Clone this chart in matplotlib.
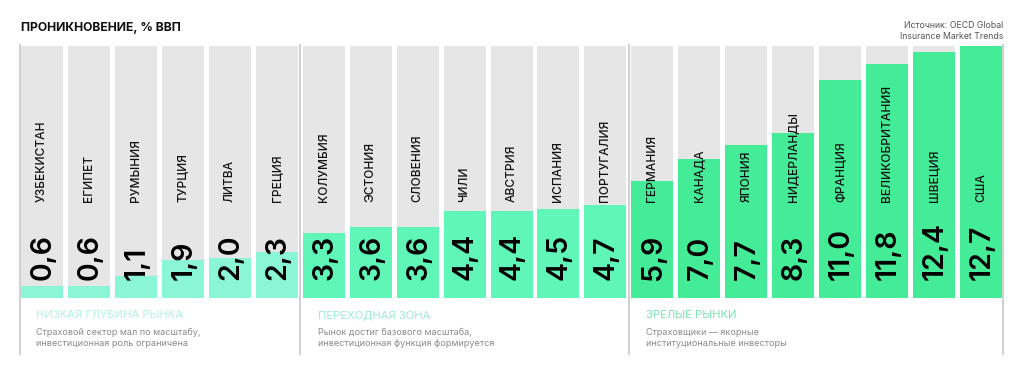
import matplotlib
matplotlib.use("Agg")
import matplotlib.pyplot as plt

countries = ["УЗБЕКИСТАН", "ЕГИПЕТ", "РУМЫНИЯ", "ТУРЦИЯ", "ЛИТВА", "ГРЕЦИЯ",
             "КОЛУМБИЯ", "ЭСТОНИЯ", "СЛОВЕНИЯ", "ЧИЛИ", "АВСТРИЯ", "ИСПАНИЯ", "ПОРТУГАЛИЯ",
             "ГЕРМАНИЯ", "КАНАДА", "ЯПОНИЯ", "НИДЕРЛАНДЫ", "ФРАНЦИЯ", "ВЕЛИКОБРИТАНИЯ", "ШВЕЦИЯ", "США"]
values = [0.6, 0.6, 1.1, 1.9, 2.0, 2.3,
          3.3, 3.6, 3.6, 4.4, 4.4, 4.5, 4.7,
          5.9, 7.0, 7.7, 8.3, 11.0, 11.8, 12.4, 12.7]
groups = [0] * 6 + [1] * 7 + [2] * 8
group_titles = ["НИЗКАЯ ГЛУБИНА РЫНКА", "ПЕРЕХОДНАЯ ЗОНА", "ЗРЕЛЫЕ РЫНКИ"]
group_desc = ["Страховой сектор мал по масштабу,\nинвестиционная роль ограничена",
              "Рынок достиг базового масштаба,\nинвестиционная функция формируется",
              "Страховщики — якорные\nинституциональные инвесторы"]
title = "ПРОНИКНОВЕНИЕ, % ВВП"
source = "Источник: OECD Global\nInsurance Market Trends"

bar_colors = ["#8af6d6", "#5ff6b8", "#44ec98"]
title_colors = ["#b2f3e0", "#98eed0", "#78e3b0"]
bg_color = "#e6e6e6"
vmax = max(values)

plt.rcParams['font.family'] = ['Inter', 'DejaVu Sans']

fig = plt.figure(figsize=(10.24, 3.77), dpi=100)
W, H = 1024, 377
# axes spans (from bottom) 7 px .. 357 px
ax = fig.add_axes([15 / W, 7 / H, (1010 - 15) / W, (357 - 7) / H])
pitch = 46.95
ppu = 252 / 12.7
base = 377 - 298  # bar baseline in px from bottom
ax.set_xlim((15 - 42) / pitch, (1010 - 42) / pitch)
ax.set_ylim((7 - base) / ppu, (357 - base) / ppu)
ax.axis("off")


def yv(px_from_top):
    return (377 - px_from_top - base) / ppu


x = list(range(len(values)))
w = 42 / pitch
ax.bar(x, [vmax] * len(x), width=w, color=bg_color, zorder=1)
ax.bar(x, values, width=w, color=[bar_colors[g] for g in groups], zorder=2)

for i, (c, v) in enumerate(zip(countries, values)):
    ax.text(i, yv(202), c, rotation=90, ha="center", va="bottom", fontsize=8.6,
            fontweight="medium", color="#111111", zorder=3)
    ax.text(i + 0.02, yv(280), f"{v:.1f}".replace(".", ","), rotation=90, ha="center",
            va="bottom", fontsize=20.5, fontweight="semibold", color="#000000", zorder=3)

# group separators
starts = [0, 6, 13]
bounds = [-0.47, 5.5, 12.5, 20.47]
for b in bounds:
    ax.plot([b, b], [yv(355), yv(44)], color="#d0d0d0", lw=1.4, zorder=0,
            solid_capstyle="butt")

for gi, s in enumerate(starts):
    xs = s - 0.447 + 15 / pitch
    ax.text(xs, yv(315), group_titles[gi], ha="left", va="center",
            fontsize=8.1, color=title_colors[gi])
    ax.text(xs, yv(338), group_desc[gi], ha="left", va="center",
            fontsize=6.5, color="#8a8a8a", linespacing=1.3)

fig.text(21 / W, 1 - 28 / H, title, ha="left", va="center", fontsize=8.8,
         fontweight="bold", color="#111111")
fig.text(1003 / W, 1 - 31 / H, source, ha="right", va="center", fontsize=6.3,
         color="#555555", linespacing=1.4)

fig.savefig("out.png", dpi=100, facecolor="white")
